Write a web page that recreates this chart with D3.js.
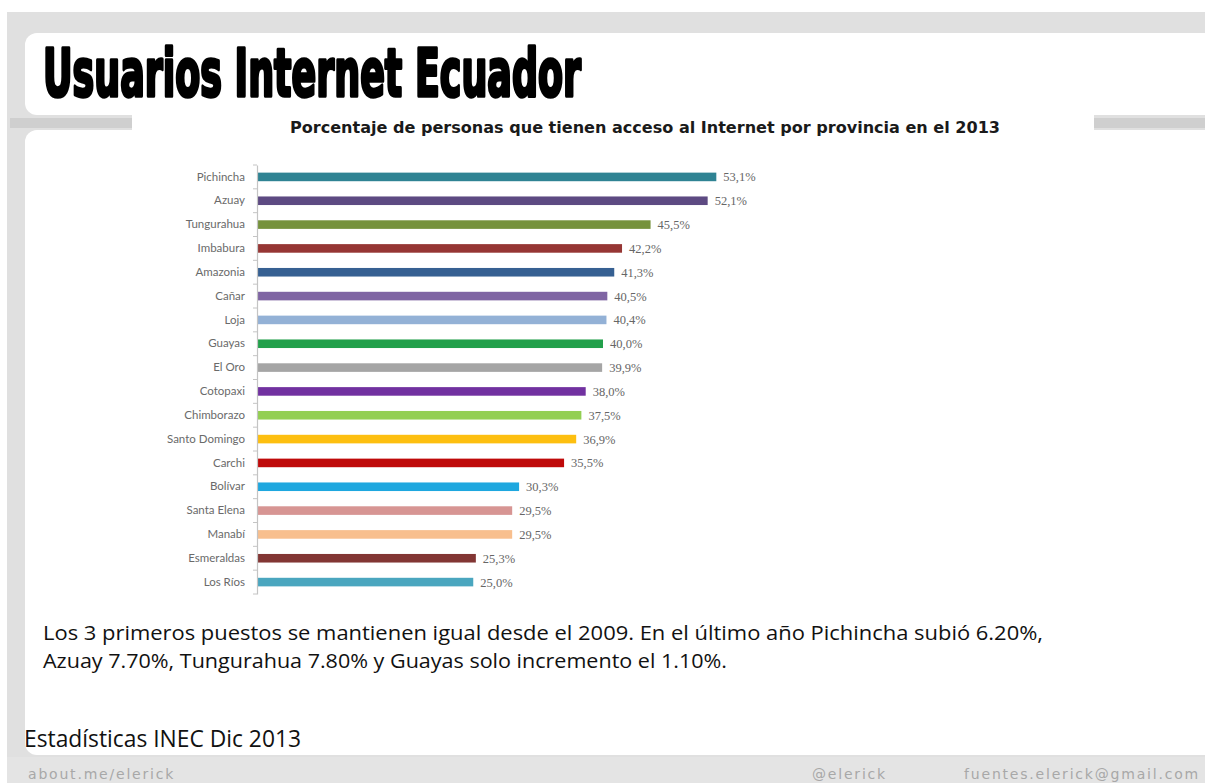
<!DOCTYPE html>
<html>
<head>
<meta charset="utf-8">
<script src="https://cdn.jsdelivr.net/npm/d3@7"></script>
<style>
  html, body { margin: 0; padding: 0; background: #ffffff; }
  svg { display: block; }
</style>
</head>
<body>
<svg id="chart" width="1205" height="783"></svg>
<script>
// Provinces, ordered from highest to lowest share of internet users (2013)
const provinces = ["Pichincha", "Azuay", "Tungurahua", "Imbabura", "Amazonia", "Cañar", "Loja",
  "Guayas", "El Oro", "Cotopaxi", "Chimborazo", "Santo Domingo", "Carchi", "Bolívar",
  "Santa Elena", "Manabí", "Esmeraldas", "Los Ríos"];
const values = [53.1, 52.1, 45.5, 42.2, 41.3, 40.5, 40.4, 40.0, 39.9, 38.0, 37.5, 36.9, 35.5,
  30.3, 29.5, 29.5, 25.3, 25.0];
const barColors = ["#2f8393", "#5d4a82", "#76923c", "#963634", "#366092", "#7f65a3", "#93b1d6",
  "#22a04b", "#a5a5a5", "#7131a0", "#93cf52", "#fdbf10", "#bf0a0a", "#1ea7df",
  "#d79593", "#f8bf8e", "#823634", "#4aa6bf"];

const title = "Usuarios Internet Ecuador";
const subtitle = "Porcentaje de personas que tienen acceso al Internet  por provincia en el 2013";
const noteLines = [
  "Los 3 primeros puestos se mantienen igual desde el 2009. En el último año Pichincha subió 6.20%,",
  "Azuay 7.70%, Tungurahua 7.80% y Guayas solo incremento el 1.10%."
];
const noteWidths = [1000, 684];
const source = "Estadísticas INEC Dic 2013";
const footer = ["about.me/elerick", "@elerick", "fuentes.elerick@gmail.com"];

const svg = d3.select("#chart");
const W = 1205, H = 783;

// ---- slide background ----
svg.append("rect").attr("x", 0).attr("y", 0).attr("width", W).attr("height", H).attr("fill", "#ffffff");
svg.append("rect").attr("x", 7).attr("y", 12).attr("width", W - 7).attr("height", H - 12).attr("fill", "#e0e0e0");
// title panel
svg.append("rect").attr("x", 25).attr("y", 33).attr("width", W).attr("height", 82)
  .attr("rx", 12).attr("fill", "#ffffff");
// content panel
svg.append("rect").attr("x", 25).attr("y", 130).attr("width", W).attr("height", 625)
  .attr("rx", 12).attr("fill", "#ffffff");
// white strip behind the subtitle joining both panels
svg.append("rect").attr("x", 132).attr("y", 110).attr("width", 962).attr("height", 26).attr("fill", "#ffffff");
// side separator bars
svg.append("rect").attr("x", 10).attr("y", 118).attr("width", 122).attr("height", 10).attr("fill", "#cfcfcf");
svg.append("rect").attr("x", 1094).attr("y", 118).attr("width", 111).attr("height", 10).attr("fill", "#cfcfcf");
// footer band
svg.append("rect").attr("x", 7).attr("y", 757).attr("width", W - 7).attr("height", 26).attr("fill", "#e4e4e4");

// ---- titles ----
svg.append("text")
  .attr("x", 43).attr("y", 96)
  .attr("font-family", "'Liberation Sans Narrow', 'DejaVu Sans Condensed', sans-serif")
  .attr("font-weight", "bold")
  .attr("font-size", 66)
  .attr("textLength", 538).attr("lengthAdjust", "spacingAndGlyphs")
  .attr("fill", "#000").attr("stroke", "#000").attr("stroke-width", 3.4)
  .attr("stroke-linejoin", "round")
  .text(title);

svg.append("text")
  .attr("x", 290).attr("y", 133)
  .attr("font-family", "'Liberation Sans Narrow', 'DejaVu Sans Condensed', sans-serif")
  .attr("font-weight", "bold")
  .attr("font-size", 16)
  .attr("textLength", 710).attr("lengthAdjust", "spacingAndGlyphs")
  .attr("fill", "#1a1a1a")
  .text(subtitle);

// ---- bar chart ----
const x0 = 257;
const x = d3.scaleLinear().domain([0, 60]).range([x0, x0 + 60 * 8.65]);
const y = d3.scaleBand().domain(provinces).range([165, 594]).paddingInner(0.64).paddingOuter(0.32);

const g = svg.append("g");

g.selectAll("rect.bar")
  .data(provinces)
  .join("rect")
  .attr("class", "bar")
  .attr("x", x(0))
  .attr("y", d => y(d))
  .attr("width", (d, i) => x(values[i]) - x(0))
  .attr("height", y.bandwidth())
  .attr("fill", (d, i) => barColors[i]);

// category axis
const axis = d3.axisLeft(y).tickSize(0).tickPadding(12);
const ax = g.append("g").attr("transform", `translate(${x0},0)`).call(axis);
ax.select(".domain").attr("stroke", "#c4c4c4").attr("stroke-width", 1.2);
ax.selectAll("text")
  .attr("font-family", "Lato, 'Open Sans', sans-serif")
  .attr("font-size", 11.5)
  .attr("fill", "#6a6a6a");

// small separator ticks between categories
const step = y.step();
const firstEdge = y(provinces[0]) - (step - y.bandwidth()) / 2;
g.selectAll("line.sep")
  .data(d3.range(provinces.length + 1))
  .join("line")
  .attr("class", "sep")
  .attr("x1", x0 - 4).attr("x2", x0)
  .attr("y1", i => firstEdge + i * step)
  .attr("y2", i => firstEdge + i * step)
  .attr("stroke", "#c4c4c4").attr("stroke-width", 1);

// value labels
g.selectAll("text.val")
  .data(provinces)
  .join("text")
  .attr("class", "val")
  .attr("x", (d, i) => x(values[i]) + 7)
  .attr("y", d => y(d) + y.bandwidth() / 2)
  .attr("dy", "0.36em")
  .attr("font-family", "'Liberation Serif', serif")
  .attr("font-size", 12.5)
  .attr("fill", "#666")
  .text((d, i) => values[i].toFixed(1).replace(".", ",") + "%");

// ---- note text ----
svg.selectAll("text.note")
  .data(noteLines)
  .join("text")
  .attr("class", "note")
  .attr("x", 43)
  .attr("y", (d, i) => 640 + i * 28)
  .attr("font-family", "'Open Sans', sans-serif")
  .attr("font-size", 20)
  .attr("textLength", (d, i) => noteWidths[i]).attr("lengthAdjust", "spacingAndGlyphs")
  .attr("fill", "#111")
  .text(d => d);

svg.append("text")
  .attr("x", 24).attr("y", 747)
  .attr("font-family", "'Open Sans', sans-serif")
  .attr("font-size", 24)
  .attr("textLength", 277).attr("lengthAdjust", "spacingAndGlyphs")
  .attr("fill", "#111")
  .text(source);

// ---- footer ----
const footStyle = sel => sel
  .attr("font-family", "'DejaVu Sans', sans-serif")
  .attr("font-size", 14)
  .attr("fill", "#a8a8a8")
  .attr("letter-spacing", 1.8);
svg.append("text").attr("x", 28).attr("y", 779).call(footStyle).text(footer[0]);
svg.append("text").attr("x", 887).attr("y", 779).attr("text-anchor", "end").call(footStyle).text(footer[1]);
svg.append("text").attr("x", 1200).attr("y", 779).attr("text-anchor", "end").call(footStyle).text(footer[2]);
</script>
</body>
</html>
